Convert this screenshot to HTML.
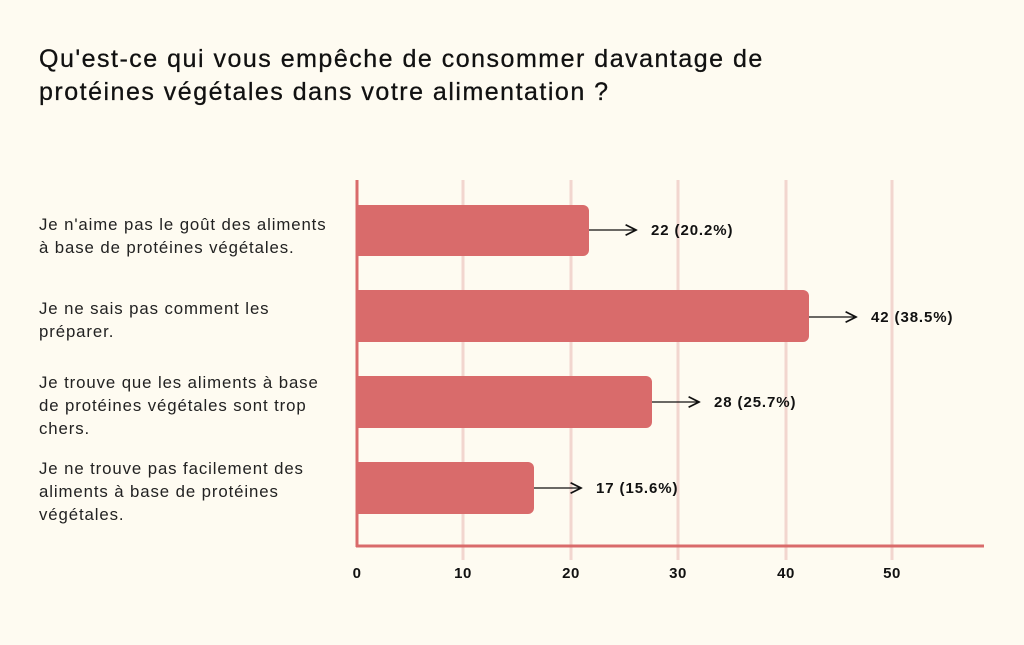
<!DOCTYPE html>
<html><head><meta charset="utf-8"><style>
body{margin:0;background:#fefbf1;font-family:"Liberation Sans",sans-serif;color:#111;}
.wrap{position:relative;width:1024px;height:645px;overflow:hidden;background:#fefbf1;}
.t{position:absolute;left:39px;top:43px;font-size:25px;line-height:33px;color:#111;letter-spacing:1.5px;-webkit-text-stroke:0.3px #111}
.l{position:absolute;left:39px;font-size:16.8px;line-height:23px;color:#222;letter-spacing:0.9px}
</style></head><body><div class="wrap">
<div class="t">Qu'est-ce qui vous empêche de consommer davantage de<br>protéines végétales dans votre alimentation ?</div>
<div class="l" style="top:213px">Je n'aime pas le goût des aliments<br>à base de protéines végétales.</div>
<div class="l" style="top:297px">Je ne sais pas comment les<br>préparer.</div>
<div class="l" style="top:371px">Je trouve que les aliments à base<br>de protéines végétales sont trop<br>chers.</div>
<div class="l" style="top:457px">Je ne trouve pas facilement des<br>aliments à base de protéines<br>végétales.</div>
<svg width="1024" height="645" style="position:absolute;left:0;top:0" font-family="Liberation Sans, sans-serif">
<defs><marker id="a" markerWidth="10" markerHeight="10" refX="9" refY="5" orient="auto"><path d="M1,1 L9,5 L1,9" fill="none" stroke="#111" stroke-width="1.3"/></marker></defs>
<g stroke="#f2d6cf" stroke-width="3">
<line x1="463" y1="180" x2="463" y2="560"/><line x1="571" y1="180" x2="571" y2="560"/>
<line x1="678" y1="180" x2="678" y2="560"/><line x1="786" y1="180" x2="786" y2="560"/>
<line x1="892" y1="180" x2="892" y2="560"/></g>
<g fill="#d96b6b">
<path d="M357,205 H583 a6,6 0 0 1 6,6 V250 a6,6 0 0 1 -6,6 H357Z"/>
<path d="M357,290 H803 a6,6 0 0 1 6,6 V336 a6,6 0 0 1 -6,6 H357Z"/>
<path d="M357,376 H646 a6,6 0 0 1 6,6 V422 a6,6 0 0 1 -6,6 H357Z"/>
<path d="M357,462 H528 a6,6 0 0 1 6,6 V508 a6,6 0 0 1 -6,6 H357Z"/>
</g>
<g stroke="#d96b6b" stroke-width="3"><line x1="357" y1="180" x2="357" y2="547"/><line x1="356" y1="546" x2="984" y2="546"/></g>
<g stroke="#111" stroke-width="1.3" marker-end="url(#a)">
<line x1="589" y1="230" x2="636" y2="230"/><line x1="809" y1="317" x2="856" y2="317"/>
<line x1="652" y1="402" x2="699" y2="402"/><line x1="534" y1="488" x2="581" y2="488"/></g>
<g font-size="15" font-weight="bold" fill="#111" letter-spacing="0.9">
<text x="651" y="235">22 (20.2%)</text><text x="871" y="322">42 (38.5%)</text>
<text x="714" y="407">28 (25.7%)</text><text x="596" y="493">17 (15.6%)</text></g>
<g font-size="15" font-weight="bold" fill="#111" text-anchor="middle" letter-spacing="0.5">
<text x="357" y="578">0</text><text x="463" y="578">10</text><text x="571" y="578">20</text>
<text x="678" y="578">30</text><text x="786" y="578">40</text><text x="892" y="578">50</text></g>
</svg></div></body></html>
